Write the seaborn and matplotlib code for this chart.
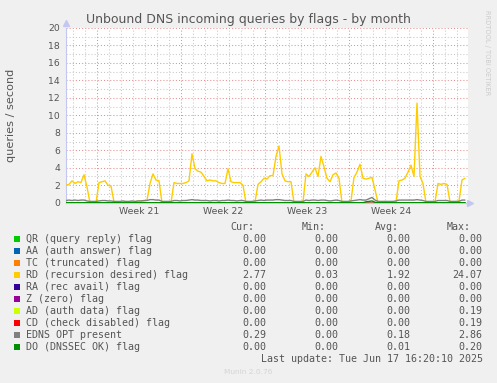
import numpy as np
import pandas as pd
import matplotlib
matplotlib.use("Agg")
import matplotlib.pyplot as plt
import matplotlib.dates as mdates
from matplotlib.patches import Rectangle
import seaborn as sns

# ---------------- data (6-hour samples) ----------------
start_time = "2025-05-15 09:20"
n_points = 134

rd_values = [
    2.0, 2.1, 2.5, 2.2, 2.4, 2.3, 3.2, 1.8, 0.0, 0.0, 0.0,
    2.3, 2.4, 2.5, 2.0, 1.9,
    0.1, 0.1, 0.1, 0.1, 0.1, 0.1, 0.1, 0.1, 0.2, 0.2, 0.2, 0.3,
    2.2, 3.3, 2.6, 2.5,
    0.0, 0.0, 0.0, 0.0,
    2.3, 2.2, 2.2, 2.2, 2.3, 2.5, 5.6, 3.9, 3.6, 3.5, 3.0, 2.5,
    2.6, 2.5, 2.5, 2.3, 2.2, 2.2, 3.9, 2.4, 2.3, 2.3, 2.3, 2.0,
    0.0, 0.0, 0.0, 0.1,
    2.1, 2.4, 2.8, 2.7, 3.1, 3.1, 5.3, 6.5, 3.3, 2.5, 2.4, 2.4,
    0.0, 0.0, 0.0, 0.1,
    3.3, 3.0, 3.5, 4.0, 3.0, 5.3, 4.1, 2.8, 2.4, 3.2, 3.4, 2.8,
    0.0, 0.0, 0.0, 0.2,
    2.9, 3.5, 4.4, 2.8, 2.7, 2.8, 2.9, 1.5,
    0.0, 0.0, 0.0, 0.0, 0.0, 0.0, 0.1,
    2.5, 2.6, 2.8, 3.5, 4.3, 3.0, 11.4, 3.0, 2.2,
    0.0, 0.0, 0.0, 0.1,
    2.2, 2.1, 2.2, 2.1,
    0.1, 0.1, 0.1, 0.2,
    2.6, 2.8,
]

edns_values = [
    0.25, 0.3, 0.25, 0.3, 0.25, 0.3, 0.3, 0.2,
    0.15, 0.15, 0.15,
    0.2, 0.25, 0.25, 0.2, 0.2,
    0.15, 0.15, 0.15, 0.2, 0.15, 0.15, 0.2, 0.15, 0.2, 0.2, 0.25, 0.25,
    0.35, 0.35, 0.3, 0.3,
    0.15, 0.15, 0.15, 0.15,
    0.25, 0.25, 0.2, 0.25, 0.25, 0.3, 0.35, 0.3, 0.3, 0.25, 0.25, 0.25,
    0.2, 0.25, 0.25, 0.2, 0.25, 0.25, 0.3, 0.25, 0.25, 0.2, 0.25, 0.25,
    0.15, 0.15, 0.15, 0.2,
    0.25, 0.3, 0.25, 0.3, 0.3, 0.3, 0.35, 0.35, 0.3, 0.25, 0.25, 0.25,
    0.15, 0.15, 0.15, 0.15,
    0.3, 0.25, 0.3, 0.3, 0.25, 0.3, 0.3, 0.25, 0.2, 0.25, 0.3, 0.25,
    0.15, 0.15, 0.15, 0.2,
    0.25, 0.3, 0.35, 0.3, 0.3, 0.45, 0.6, 0.3,
    0.15, 0.15, 0.15, 0.15, 0.15, 0.15, 0.2,
    0.3, 0.3, 0.3, 0.3, 0.3, 0.3, 0.35, 0.3, 0.25,
    0.15, 0.15, 0.15, 0.15,
    0.25, 0.25, 0.25, 0.25,
    0.15, 0.15, 0.15, 0.15,
    0.3, 0.3,
]

do_values = [0.0] * 100 + [0.1, 0.15, 0.2, 0.05] + [0.0] * 30
zero_values = [0.0] * n_points

series_names = [
    "QR (query reply) flag", "AA (auth answer) flag", "TC (truncated) flag",
    "RD (recursion desired) flag", "RA (rec avail) flag", "Z (zero) flag",
    "AD (auth data) flag", "CD (check disabled) flag", "EDNS OPT present",
    "DO (DNSSEC OK) flag",
]
series_colors = ["#00CC00", "#0066B3", "#FF8000", "#FFCC00", "#330099",
                 "#990099", "#CCFF00", "#FF0000", "#808080", "#008F00"]
series_data = [zero_values, zero_values, zero_values, rd_values, zero_values,
               zero_values, zero_values, zero_values, edns_values, do_values]

cur_vals = ["0.00", "0.00", "0.00", "2.77", "0.00", "0.00", "0.00", "0.00", "0.29", "0.00"]
min_vals = ["0.00", "0.00", "0.00", "0.03", "0.00", "0.00", "0.00", "0.00", "0.00", "0.00"]
avg_vals = ["0.00", "0.00", "0.00", "1.92", "0.00", "0.00", "0.00", "0.00", "0.18", "0.01"]
max_vals = ["0.00", "0.00", "0.00", "24.07", "0.00", "0.00", "0.19", "0.19", "2.86", "0.20"]

title = "Unbound DNS incoming queries by flags - by month"
ylabel = "queries / second"
last_update = "Last update: Tue Jun 17 16:20:10 2025"
footer = "Munin 2.0.76"
side_text = "RRDTOOL / TOBI OETIKER"

# ---------------- figure ----------------
sns.set_theme(style="white")
plt.rcParams["font.family"] = ["DejaVu Sans"]

W, H = 497, 383
fig = plt.figure(figsize=(W / 100, H / 100), dpi=100, facecolor="#F0F0F0")
L, R, T, B = 66, 468, 28, 202.7
ax = fig.add_axes([L / W, 1 - B / H, (R - L) / W, (B - T) / H])
ax.set_facecolor("white")

times = pd.date_range(start_time, periods=n_points, freq="6h")
t0 = pd.Timestamp(start_time)
t1 = t0 + pd.Timedelta(days=33.5)

minor_col = "#c8c8c8"
major_col = "#e49090"
# grid
for y in range(1, 20, 2):
    ax.axhline(y, color=minor_col, lw=0.75, ls=(0, (1, 2)), zorder=0)
for y in range(2, 21, 2):
    ax.axhline(y, color=major_col, lw=0.75, ls=(0, (1, 2)), zorder=0)
for d in pd.date_range(t0.normalize() + pd.Timedelta(days=1), t1, freq="D"):
    if d.dayofweek == 6:
        ax.axvline(d, color=major_col, lw=0.75, ls=(0, (1, 2)), zorder=0)
    else:
        ax.axvline(d, color=minor_col, lw=0.75, ls=(0, (1, 2)), zorder=0)

for name, col, vals in zip(series_names, series_colors, series_data):
    sns.lineplot(x=times, y=vals, color=col, lw=1.0, ax=ax, zorder=3)

ax.set_xlim(t0, t1)
ax.set_ylim(0, 20)
ax.set_yticks(range(0, 21, 2))
ax.set_yticklabels([str(v) for v in range(0, 21, 2)])

sundays = pd.date_range(t0.normalize(), t1, freq="W-SUN")
week_mid = [d + pd.Timedelta(hours=84) for d in sundays]
week_mid = [w for w in week_mid if w < t1 - pd.Timedelta(days=1)]
ax.set_xticks(week_mid)
ax.set_xticklabels(["Week %d" % w.isocalendar()[1] for w in week_mid])

ax.tick_params(axis="both", length=0, labelsize=6.7, colors="#555555")
ax.tick_params(axis="y", pad=4.3)
ax.tick_params(axis="x", pad=3.0)
ax.set_xlabel("")
ax.set_ylabel("")
for s in ["top", "right"]:
    ax.spines[s].set_visible(False)
for s in ["left", "bottom"]:
    ax.spines[s].set_color("#c4c8f0")
    ax.spines[s].set_linewidth(0.8)
ax.plot([0], [1.03], marker="^", color="#c4c8f0", ms=4, transform=ax.transAxes, clip_on=False)
ax.plot([1.005], [0], marker=">", color="#c4c8f0", ms=4, transform=ax.transAxes, clip_on=False)

# texts
def fy(y):
    return 1 - y / H

fig.text(248.3 / W, fy(19), title, ha="center", va="center", fontsize=9.0, color="#555555")
fig.text(10.8 / W, fy(115), ylabel, ha="center", va="center", rotation=90, fontsize=8.1, color="#555555")
fig.text(487 / W, fy(53), side_text, ha="center", va="center", rotation=270, fontsize=4.8, color="#cccccc")

mono = "DejaVu Sans Mono"
fs = 7.2
tc = "#555555"
heads = ["Cur:", "Min:", "Avg:", "Max:"]
head_x = [254, 326, 398.5, 470.5]
val_x = [266, 338.3, 410.7, 482.7]
for hx, h in zip(head_x, heads):
    fig.text(hx / W, fy(227.3), h, ha="right", va="center", family=mono, fontsize=fs, color=tc)
cols = [cur_vals, min_vals, avg_vals, max_vals]
for r, (name, col) in enumerate(zip(series_names, series_colors)):
    y = 239.3 + 12 * r
    fig.add_artist(Rectangle((14 / W, fy(y + 3)), 6 / W, 6 / H, transform=fig.transFigure,
                             facecolor=col, edgecolor="none"))
    fig.text(26 / W, fy(y), name, ha="left", va="center", family=mono, fontsize=fs, color=tc)
    for vx, c in zip(val_x, cols):
        fig.text(vx / W, fy(y), c[r], ha="right", va="center", family=mono, fontsize=fs, color=tc)
fig.text(482.7 / W, fy(359.3), last_update, ha="right", va="center", family=mono, fontsize=fs, color=tc)
fig.text(247.7 / W, fy(372), footer, ha="center", va="center", fontsize=5.3, color="#d4d4d4")

fig.savefig("out.png", dpi=100, facecolor=fig.get_facecolor())
